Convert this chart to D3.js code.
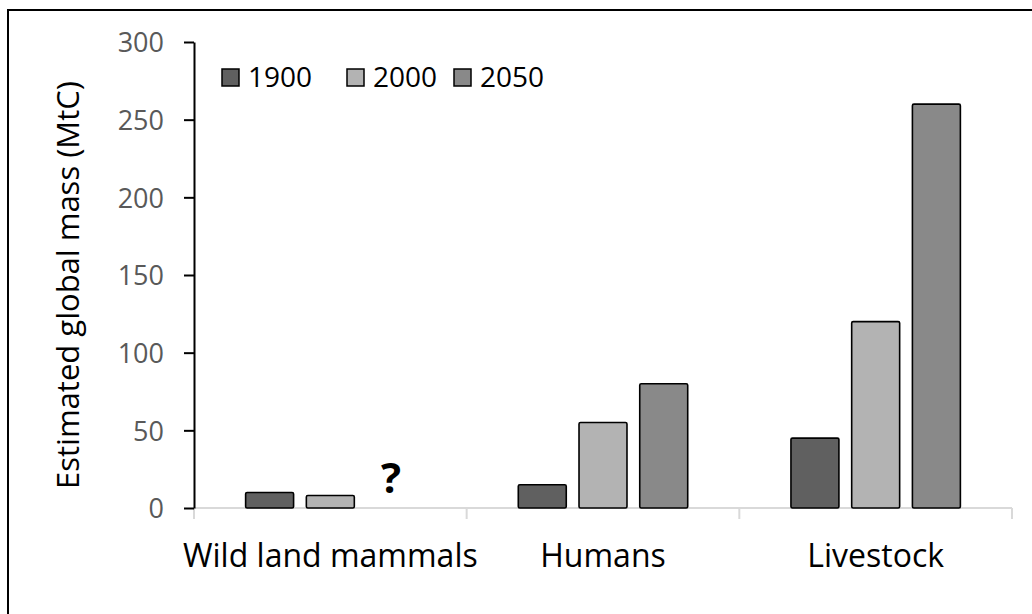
<!DOCTYPE html>
<html>
<head>
<meta charset="utf-8">
<script src="https://cdn.jsdelivr.net/npm/d3@7"></script>
<style>
  body { margin: 0; background: #fff; }
  svg { display: block; font-family: 'Open Sans', sans-serif; }
</style>
</head>
<body>
<svg id="chart" width="1032" height="614"></svg>
<script>
const categories = ['Wild land mammals', 'Humans', 'Livestock'];
const years = ['1900', '2000', '2050'];
const values1900 = [10, 15, 45];
const values2000 = [8, 55, 120];
const values2050 = [null, 80, 260];
const yTicks = [0, 50, 100, 150, 200, 250, 300];
const colors = ['#606060', '#b3b3b3', '#898989'];

const series = [values1900, values2000, values2050];
const rows = categories.map((c, i) => ({
    category: c,
    values: years.map((y, j) => ({ year: y, value: series[j][i] }))
}));

const svg = d3.select('#chart');
const margin = { top: 42, right: 20, bottom: 106, left: 194 };
const width = 1032;
const height = 614;
const innerWidth = 1012 - margin.left;
const innerHeight = 508 - margin.top;

// chart frame: only its top and left edges are inside the picture
svg.append('line')
    .attr('x1', 8).attr('x2', 8).attr('y1', 9).attr('y2', height)
    .attr('stroke', '#000').attr('stroke-width', 2);
svg.append('line')
    .attr('x1', 7).attr('x2', width).attr('y1', 10).attr('y2', 10)
    .attr('stroke', '#000').attr('stroke-width', 2);

const g = svg.append('g').attr('transform', `translate(${margin.left},${margin.top})`);

const x = d3.scaleBand()
    .domain(categories)
    .range([0, innerWidth])
    .padding(0);

const xInner = d3.scaleBand()
    .domain(years)
    .range([0, x.bandwidth()])
    .paddingInner(0.21)
    .paddingOuter(0.85);

const y = d3.scaleLinear()
    .domain([0, 300])
    .range([innerHeight, 0]);

// x axis: light grey line with tick marks at category boundaries
const xAxis = g.append('g').attr('transform', `translate(0,${innerHeight})`);
xAxis.append('line')
    .attr('x1', 0).attr('x2', innerWidth)
    .attr('stroke', '#d9d9d9').attr('stroke-width', 2);
xAxis.selectAll('.bound')
    .data(d3.range(categories.length + 1))
    .enter().append('line')
    .attr('x1', d => d * x.step()).attr('x2', d => d * x.step())
    .attr('y1', 0).attr('y2', 11)
    .attr('stroke', '#d9d9d9').attr('stroke-width', 2);
xAxis.selectAll('.cat')
    .data(categories)
    .enter().append('text')
    .attr('x', d => x(d) + x.bandwidth() / 2)
    .attr('y', 59)
    .attr('text-anchor', 'middle')
    .attr('font-size', 32)
    .attr('fill', '#000')
    .text(d => d);

// bars
const groups = g.selectAll('.group')
    .data(rows)
    .enter().append('g')
    .attr('transform', d => `translate(${x(d.category)},0)`);

groups.selectAll('rect')
    .data(d => d.values.filter(v => v.value != null))
    .enter().append('rect')
    .attr('x', d => xInner(d.year))
    .attr('y', d => y(d.value))
    .attr('width', xInner.bandwidth())
    .attr('height', d => innerHeight - y(d.value))
    .attr('rx', 1.5)
    .attr('fill', d => colors[years.indexOf(d.year)])
    .attr('stroke', '#000')
    .attr('stroke-width', 1.6);

// missing 2050 value for wild land mammals
groups.selectAll('.unknown')
    .data(d => d.values.filter(v => v.value == null))
    .enter().append('text')
    .attr('x', d => xInner(d.year) + xInner.bandwidth() / 2)
    .attr('y', innerHeight - 15)
    .attr('text-anchor', 'middle')
    .attr('font-size', 42)
    .attr('font-weight', 'bold')
    .attr('fill', '#000')
    .text('?');

// y axis
const yAxis = g.append('g')
    .call(d3.axisLeft(y).tickValues(yTicks).tickSize(10).tickPadding(20).tickSizeOuter(0));
yAxis.select('.domain').attr('stroke', '#000').attr('stroke-width', 2);
yAxis.selectAll('.tick line').attr('stroke', '#000').attr('stroke-width', 2);
yAxis.selectAll('.tick text')
    .attr('font-size', 27)
    .attr('font-family', "'Open Sans', sans-serif")
    .attr('fill', '#595959')
    .attr('dy', '0.36em');

svg.append('text')
    .attr('transform', 'translate(79,285) rotate(-90)')
    .attr('text-anchor', 'middle')
    .attr('font-size', 31)
    .attr('fill', '#000')
    .text('Estimated global mass (MtC)');

// legend
const legend = svg.append('g').attr('transform', 'translate(222,69)');
const item = legend.selectAll('.item')
    .data(years)
    .enter().append('g')
    .attr('transform', (d, i) => `translate(${[0, 125, 232][i]},0)`);
item.append('rect')
    .attr('width', 17).attr('height', 17)
    .attr('fill', (d, i) => colors[i])
    .attr('stroke', '#000').attr('stroke-width', 1.5);
item.append('text')
    .attr('x', 26).attr('y', 18)
    .attr('font-size', 28)
    .attr('fill', '#000')
    .text(d => d);
</script>
</body>
</html>
